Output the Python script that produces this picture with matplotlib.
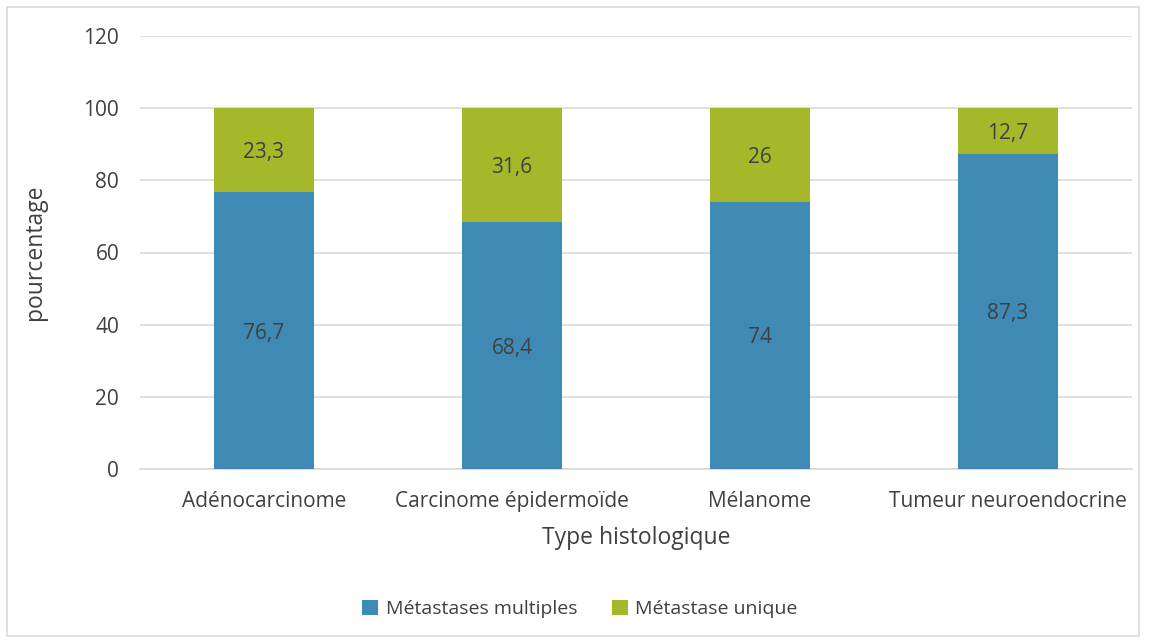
import matplotlib
matplotlib.use("Agg")
import matplotlib.pyplot as plt
from matplotlib.patches import Rectangle

categories = ["Adénocarcinome", "Carcinome épidermoïde", "Mélanome", "Tumeur neuroendocrine"]
multiples = [76.7, 68.4, 74, 87.3]
unique = [23.3, 31.6, 26, 12.7]
labels_multiples = ["76,7", "68,4", "74", "87,3"]
labels_unique = ["23,3", "31,6", "26", "12,7"]

blue = "#3F8AB5"
green = "#A5B82A"
txt = "#404040"

plt.rcParams['font.family'] = ['Open Sans', 'DejaVu Sans']

fig = plt.figure(figsize=(11.54, 6.43), dpi=100)
ax = fig.add_axes([140/1154, 1-469/643, (1132-140)/1154, (469-36)/643])

x = list(range(len(categories)))
w = 0.4
b1 = ax.bar(x, multiples, width=w, color=blue, zorder=3)
b2 = ax.bar(x, unique, width=w, bottom=multiples, color=green, zorder=3)

for i in x:
    ax.text(i, multiples[i]/2, labels_multiples[i], ha="center", va="center_baseline", fontsize=15, color=txt, zorder=4)
    ax.text(i, multiples[i] + unique[i]/2, labels_unique[i], ha="center", va="center_baseline", fontsize=15, color=txt, zorder=4)

ax.set_xlim(-0.5, 3.5)
ax.set_ylim(0, 120)
ax.set_yticks(range(0, 121, 20))
ax.set_xticks(x)
ax.set_xticklabels(categories)
ax.tick_params(axis="both", length=0, labelsize=15, labelcolor=txt)
ax.tick_params(axis="y", pad=15)
ax.tick_params(axis="x", pad=16)
ax.yaxis.grid(True, color="#D9D9D9", linewidth=1.2, zorder=0)
for s in ["top", "right", "left"]:
    ax.spines[s].set_visible(False)
ax.spines["bottom"].set_color("#D9D9D9")
ax.spines["bottom"].set_linewidth(1.2)

ax.set_xlabel("Type histologique", fontsize=16.5, color=txt, labelpad=10)
fig.text(35/1154, 1-252/643, "pourcentage", rotation=90, ha="center", va="center", fontsize=16.5, color=txt)

fig.legend([b1, b2], ["Métastases multiples", "Métastase unique"], loc="center",
           bbox_to_anchor=(580/1154, 1-609/643), ncol=2, frameon=False,
           fontsize=14, labelcolor=txt, handlelength=0.8, handleheight=0.8,
           columnspacing=1.8, handletextpad=0.4)

fig.patches.append(Rectangle((7/1154, 1-636/643), 1132/1154, 629/643, transform=fig.transFigure,
                             fill=False, edgecolor="#D9D9D9", linewidth=1.2))

fig.savefig("out.png", dpi=100)
